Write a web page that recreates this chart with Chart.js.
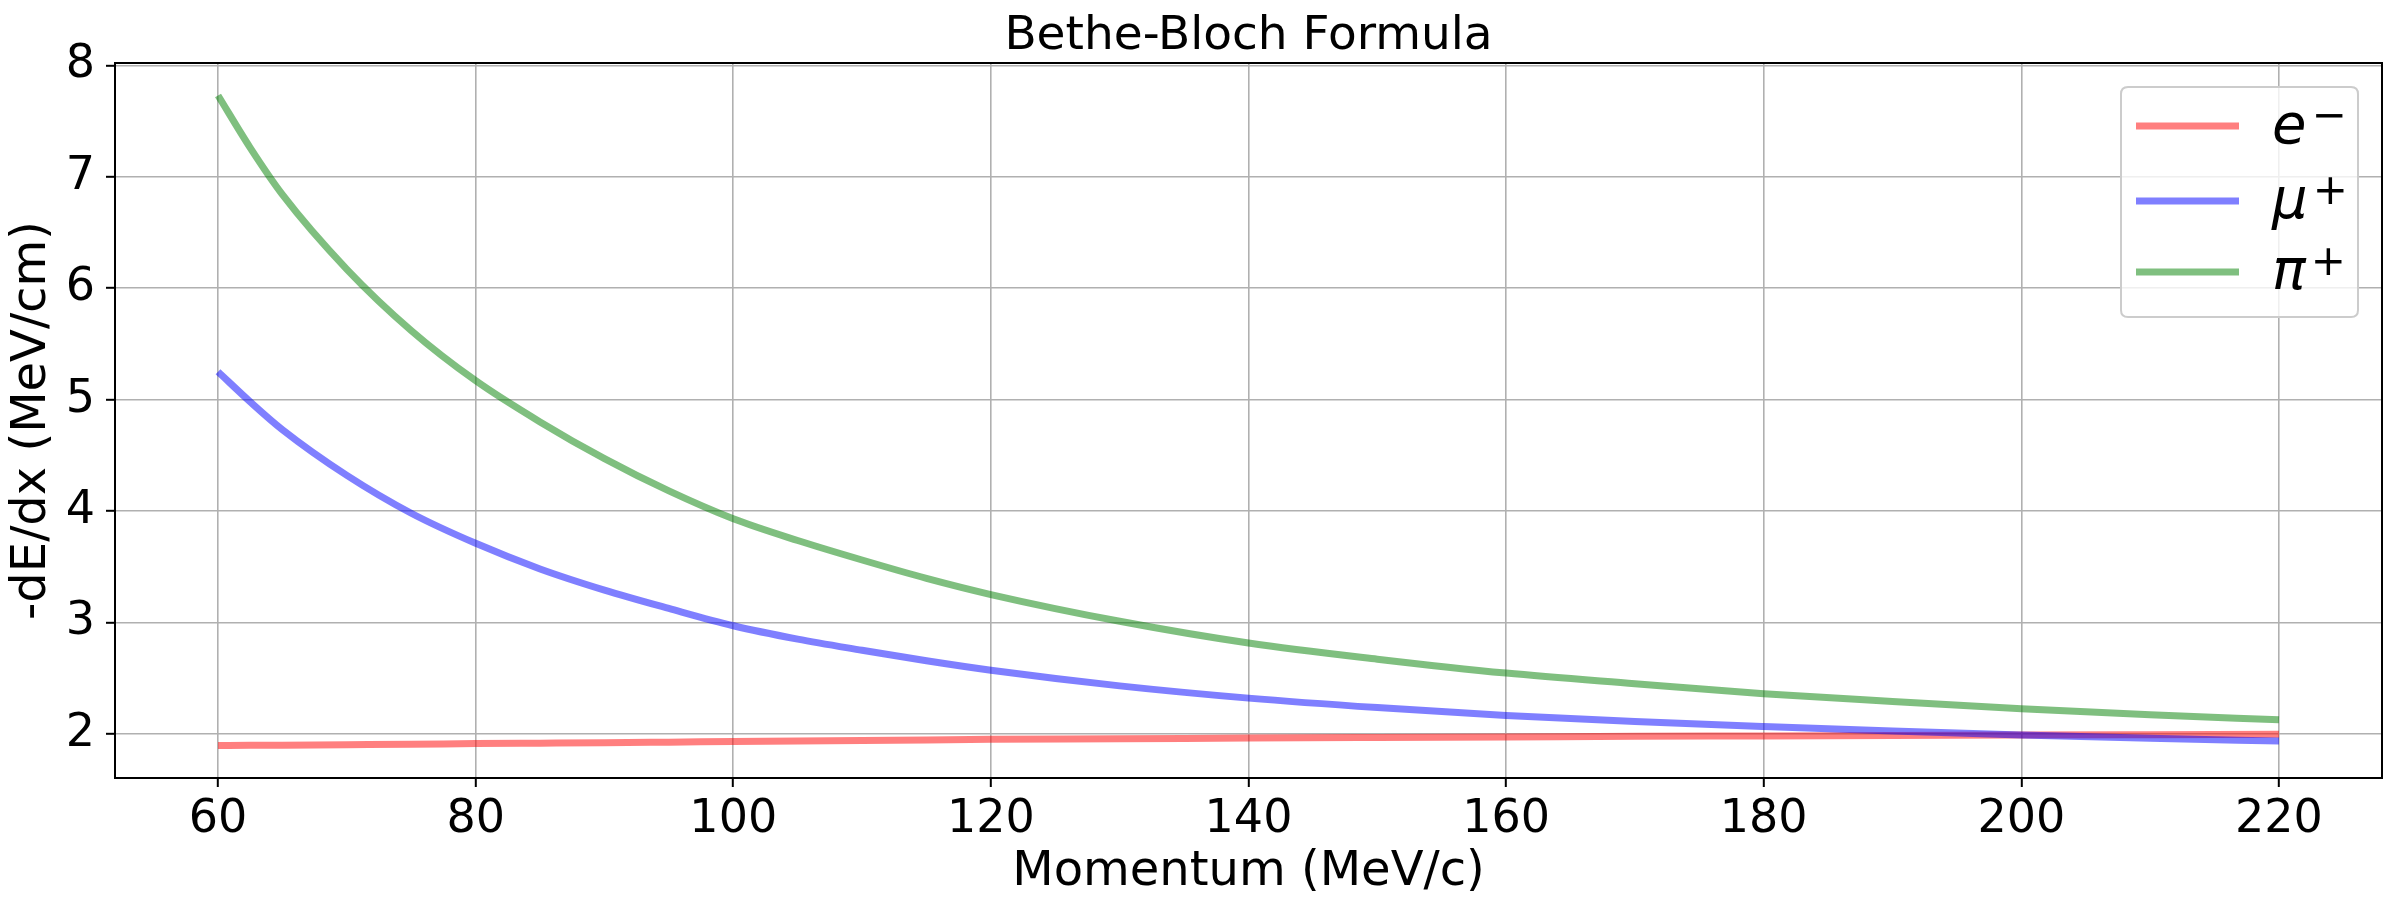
<!DOCTYPE html>
<html><head><meta charset="utf-8">
<script src="https://cdn.jsdelivr.net/npm/chart.js@4.4.1/dist/chart.umd.min.js"></script>
<style>html,body{margin:0;padding:0;background:#fff;}canvas{display:block;}</style>
</head><body>
<canvas id="c" width="2396" height="921"></canvas>
<script>
const momentum = [60,62.5,65,70,75,80,85,90,95,100,105,110,115,120,130,140,150,160,170,180,190,200,210,220];
const electron = [1.895,1.896,1.898,1.902,1.906,1.912,1.916,1.920,1.925,1.930,1.935,1.940,1.945,1.950,1.955,1.962,1.967,1.972,1.977,1.981,1.985,1.989,1.992,1.995];
const muon     = [5.25,4.98,4.73,4.32,3.98,3.71,3.48,3.29,3.125,2.97,2.85,2.75,2.655,2.57,2.43,2.32,2.235,2.165,2.11,2.065,2.025,1.99,1.96,1.935];
const pion     = [7.73,7.26,6.84,6.17,5.62,5.17,4.80,4.47,4.18,3.93,3.735,3.56,3.395,3.25,3.01,2.815,2.67,2.545,2.45,2.36,2.29,2.225,2.17,2.125];
const seriesBase = ['e','μ','π'];
const seriesSup  = ['−','+','+'];
const seriesColors = ['rgba(255,0,0,0.5)','rgba(0,0,255,0.5)','rgba(0,128,0,0.5)'];
const xTicks = [60,80,100,120,140,160,180,200,220];
const yTicks = [2,3,4,5,6,7,8];
const titleText = 'Bethe-Bloch Formula';
const xLabel = 'Momentum (MeV/c)';
const yLabel = '-dE/dx (MeV/cm)';

const FAM = '"DejaVu Sans", sans-serif';
const toPts = arr => arr.map((v,i)=>({x:momentum[i], y:v}));
const seriesValues = [electron, muon, pion];

const framePlugin = {
  id:'frameLegend',
  afterDatasetsDraw(chart){
    const ctx = chart.ctx, a = chart.chartArea;
    ctx.save();
    ctx.strokeStyle = '#000'; ctx.lineWidth = 2;
    ctx.strokeRect(a.left, a.top, a.right-a.left, a.bottom-a.top);
    // title
    ctx.fillStyle = '#000'; ctx.font = '47px ' + FAM; ctx.textAlign = 'center'; ctx.textBaseline = 'alphabetic';
    ctx.fillText(titleText, (a.left + a.right)/2, 49);
    // legend
    const bw = 237, bh = 230;
    const bx = a.right - 24 - bw, by = a.top + 24;
    const r = 7;
    ctx.beginPath();
    ctx.moveTo(bx+r, by); ctx.lineTo(bx+bw-r, by); ctx.quadraticCurveTo(bx+bw, by, bx+bw, by+r);
    ctx.lineTo(bx+bw, by+bh-r); ctx.quadraticCurveTo(bx+bw, by+bh, bx+bw-r, by+bh);
    ctx.lineTo(bx+r, by+bh); ctx.quadraticCurveTo(bx, by+bh, bx, by+bh-r);
    ctx.lineTo(bx, by+r); ctx.quadraticCurveTo(bx, by, bx+r, by);
    ctx.closePath();
    ctx.fillStyle = 'rgba(255,255,255,0.8)'; ctx.fill();
    ctx.strokeStyle = '#cccccc'; ctx.lineWidth = 2; ctx.stroke();
    const rows = [39, 114, 185];
    chart.data.datasets.forEach((ds, i) => {
      const y = by + rows[i];
      ctx.beginPath(); ctx.strokeStyle = ds.borderColor; ctx.lineWidth = 7; ctx.lineCap = 'butt';
      ctx.moveTo(bx+15, y); ctx.lineTo(bx+118, y); ctx.stroke();
      ctx.fillStyle = '#000'; ctx.textBaseline = 'alphabetic'; ctx.textAlign = 'left';
      ctx.font = 'italic 56px ' + FAM;
      const tx = bx + 151, ty = y + 17;
      ctx.fillText(seriesBase[i], tx, ty);
      const w = ctx.measureText(seriesBase[i]).width;
      ctx.font = '42px ' + FAM;
      ctx.fillText(seriesSup[i], tx + w + 5, ty - 14);
    });
    ctx.restore();
  }
};

new Chart(document.getElementById('c'), {
  type:'line',
  data:{
    datasets: seriesValues.map((vals,i)=>({
      label: seriesBase[i] + seriesSup[i],
      data: toPts(vals),
      borderColor: seriesColors[i],
      backgroundColor: seriesColors[i],
      borderWidth: 7,
      pointRadius: 0,
      cubicInterpolationMode: 'monotone',
      fill: false,
      order: 3 - i
    }))
  },
  options:{
    responsive:false, animation:false,
    layout:{padding:{left:0,right:14,top:63,bottom:0}},
    plugins:{ legend:{display:false}, tooltip:{enabled:false}, title:{display:false} },
    scales:{
      x:{type:'linear', min:52, max:228,
        afterBuildTicks: s => { s.ticks = xTicks.map(v=>({value:v})); },
        afterFit: s => { s.height = 143; },
        grid:{color:'#b0b0b0', lineWidth:1.6, tickColor:'#000', tickLength:9, tickWidth:2},
        border:{display:true, color:'#000', width:2},
        ticks:{color:'#000', font:{family:FAM,size:46}, padding:5, maxRotation:0, autoSkip:false},
        title:{display:true, text:xLabel, color:'#000', font:{family:FAM,size:48}, padding:{top:0,bottom:20}}
      },
      y:{type:'linear', min:1.603, max:8.022,
        afterBuildTicks: s => { s.ticks = yTicks.map(v=>({value:v})); },
        afterFit: s => { s.width = 115; },
        grid:{color:'#b0b0b0', lineWidth:1.6, tickColor:'#000', tickLength:9, tickWidth:2},
        border:{display:true, color:'#000', width:2},
        ticks:{color:'#000', font:{family:FAM,size:46}, padding:11, autoSkip:false},
        title:{display:true, text:yLabel, color:'#000', font:{family:FAM,size:48}, padding:{top:4,bottom:0}}
      }
    }
  },
  plugins:[framePlugin]
});
</script>
</body></html>
